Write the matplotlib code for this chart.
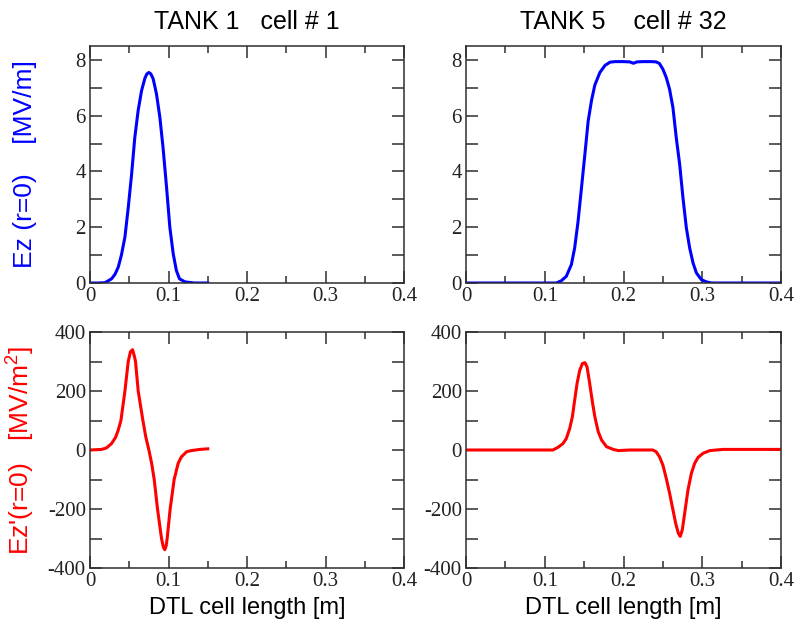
import matplotlib
matplotlib.use("Agg")
import matplotlib.pyplot as plt
from matplotlib.ticker import MultipleLocator, FixedLocator

plt.rcParams['mathtext.fontset'] = 'custom'
plt.rcParams['mathtext.rm'] = 'Liberation Sans'
plt.rcParams['mathtext.it'] = 'Liberation Sans'
plt.rcParams['axes.unicode_minus'] = False

# ---------------- data ----------------
titles = ["TANK 1   cell # 1", "TANK 5    cell # 32"]

x_ticks = [0, 0.1, 0.2, 0.3, 0.4]
x_tick_labels = ['0', '0.1', '0.2', '0.3', '0.4']
ez_ticks = [0, 2, 4, 6, 8]
dez_ticks = [-400, -200, 0, 200, 400]

# Tank 1, Ez
t1_ez_x = [0, 0.010, 0.019, 0.0275, 0.032, 0.036, 0.040, 0.0445, 0.0487, 0.053,
           0.057, 0.0614, 0.0657, 0.070, 0.0725, 0.075, 0.0775, 0.0805, 0.0847,
           0.089, 0.093, 0.0975, 0.1017, 0.106, 0.110, 0.114, 0.121, 0.133, 0.15]
t1_ez_y = [0, 0, 0.01, 0.15, 0.32, 0.57, 1.0, 1.65, 2.7, 3.9,
           5.2, 6.2, 6.9, 7.35, 7.5, 7.55, 7.5, 7.32, 6.78,
           5.94, 4.87, 3.44, 2.0, 1.05, 0.45, 0.15, 0.04, 0.0, 0.0]

# Tank 5, Ez
t5_ez_x = [0, 0.1147, 0.121, 0.1274, 0.1338, 0.138, 0.1423, 0.1466, 0.1509, 0.1551,
           0.1594, 0.1636, 0.170, 0.1764, 0.1828, 0.1891, 0.200, 0.208, 0.2126,
           0.217, 0.225, 0.235, 0.2415, 0.2457, 0.25, 0.2543, 0.2585, 0.2628,
           0.267, 0.2713, 0.2755, 0.2798, 0.284, 0.2883, 0.2926, 0.2989, 0.3053,
           0.3117, 0.4]
t5_ez_y = [0, 0, 0.08, 0.24, 0.66, 1.26, 2.21, 3.4, 4.6, 5.8,
           6.55, 7.1, 7.55, 7.8, 7.92, 7.94, 7.94, 7.93, 7.88,
           7.93, 7.94, 7.94, 7.93, 7.87, 7.67, 7.37, 6.95, 6.29,
           5.21, 4.26, 3.06, 1.98, 1.26, 0.72, 0.36, 0.12, 0.04,
           0, 0]

# Tank 1, dEz/dz
t1_d_x = [0, 0.0148, 0.021, 0.0275, 0.0326, 0.036, 0.0394, 0.0445, 0.0487, 0.0515,
          0.0542, 0.0565, 0.058, 0.0614, 0.0674, 0.071, 0.075, 0.0785, 0.0818,
          0.086, 0.0911, 0.0935, 0.0953, 0.097, 0.0983, 0.1021, 0.1072, 0.1123,
          0.1165, 0.123, 0.129, 0.14, 0.15]
t1_d_y = [0, 2, 7, 22, 43, 68, 100, 200, 300, 333,
          340, 318, 300, 200, 100, 45, 0, -45, -100,
          -200, -300, -330, -338, -325, -300, -200, -100, -45,
          -23, -6, -2, 2, 4]

# Tank 5, dEz/dz
t5_d_x = [0, 0.1104, 0.1168, 0.1232, 0.1274, 0.1317, 0.1351, 0.138, 0.141, 0.1444,
          0.1478, 0.1511, 0.1537, 0.1571, 0.1605, 0.1636, 0.1679, 0.1721, 0.1785,
          0.187, 0.1934, 0.2083, 0.2372, 0.2415, 0.2457, 0.25, 0.2543, 0.2585,
          0.2628, 0.2662, 0.2696, 0.2721, 0.2747, 0.2777, 0.2819, 0.2862, 0.2904,
          0.2947, 0.3011, 0.3096, 0.3266, 0.4]
t5_d_y = [0, 0, 9, 22, 39, 73, 113, 169, 225, 270,
          293, 296, 282, 225, 163, 113, 62, 34, 11,
          2, -2, 0, 0, -6, -23, -51, -96, -146,
          -203, -248, -282, -293, -270, -214, -135, -79, -45,
          -25, -11, -2, 2, 2]

xlabel = "DTL cell length [m]"
ylabel_top = "Ez (r=0)    [MV/m]"
ylabel_bot = "Ez'(r=0)   [MV/m$^{2}$]"

# ---------------- figure ----------------
W, H = 796, 628
fig = plt.figure(figsize=(W / 100, H / 100), dpi=100)

def px_axes(l, t, r, b):
    return fig.add_axes([l / W, 1 - b / H, (r - l) / W, (b - t) / H])

ax_tl = px_axes(90, 46, 404, 283)
ax_tr = px_axes(466, 46, 781, 283)
ax_bl = px_axes(90, 332, 404, 568)
ax_br = px_axes(466, 332, 781, 568)

spine_col = '#2e2e2e'
sans = 'Liberation Sans'
serif = 'Liberation Serif'

def style(ax, top):
    ax.set_xlim(0, 0.4)
    ax.set_xticks(x_ticks)
    ax.set_xticklabels(x_tick_labels)
    ax.xaxis.set_minor_locator(FixedLocator([0.05, 0.15, 0.25, 0.35]))
    if top:
        ax.set_ylim(0, 8.5)
        ax.set_yticks(ez_ticks)
        ax.set_yticklabels([str(v) for v in ez_ticks])
        ax.yaxis.set_minor_locator(FixedLocator([1, 3, 5, 7]))
    else:
        ax.set_ylim(-400, 400)
        ax.set_yticks(dez_ticks)
        ax.set_yticklabels([str(v) for v in dez_ticks])
        ax.yaxis.set_minor_locator(FixedLocator([-300, -100, 100, 300]))
    for s in ax.spines.values():
        s.set_color(spine_col)
        s.set_linewidth(1.1)
    ax.tick_params(which='both', direction='in', top=True, right=True,
                   color=spine_col, width=1.1, labelsize=15,
                   labelcolor='#222222', pad=3)
    ax.tick_params(which='major', length=8.5)
    ax.tick_params(which='minor', length=5)
    ax.tick_params(axis='y', which='minor', length=8.5)
    for lab in ax.get_xticklabels() + ax.get_yticklabels():
        lab.set_fontfamily(serif)

lw = 2.2
ax_tl.plot(t1_ez_x, t1_ez_y, color='#0000ff', lw=lw)
ax_tr.plot(t5_ez_x, t5_ez_y, color='#0000ff', lw=lw)
ax_bl.plot(t1_d_x, t1_d_y, color='#ff0000', lw=lw)
ax_br.plot(t5_d_x, t5_d_y, color='#ff0000', lw=lw)

for ax in (ax_tl, ax_tr):
    style(ax, True)
for ax in (ax_bl, ax_br):
    style(ax, False)

ax_tl.set_title(titles[0], fontfamily=sans, fontsize=18, pad=12)
ax_tr.set_title(titles[1], fontfamily=sans, fontsize=18, pad=12)

ax_tl.set_ylabel(ylabel_top, fontfamily=sans, fontsize=19, color='#0000ff')
ax_bl.set_ylabel(ylabel_bot, fontfamily=sans, fontsize=19, color='#ff0000')
ax_tl.yaxis.set_label_coords(-0.17, 0.5)
ax_bl.yaxis.set_label_coords(-0.17, 0.5)

ax_bl.set_xlabel(xlabel, fontfamily=sans, fontsize=17, labelpad=4)
ax_br.set_xlabel(xlabel, fontfamily=sans, fontsize=17, labelpad=4)

fig.savefig("out.png", dpi=100)
